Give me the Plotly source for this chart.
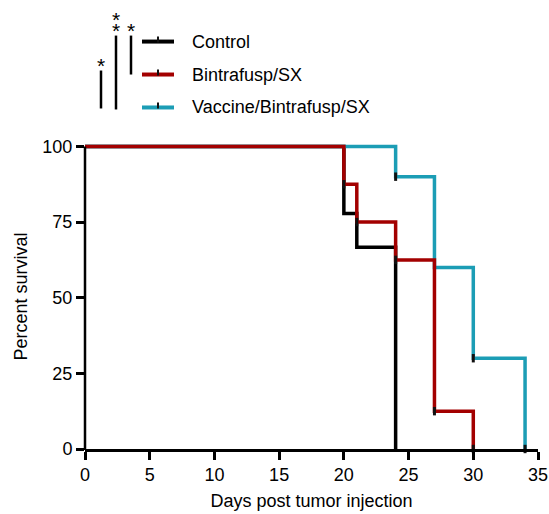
import plotly.graph_objects as go

# ---- data ----
control_days = [0, 20, 21, 24]
control_surv = [100, 77.8, 66.7, 0]
bint_days = [0, 20, 21, 24, 27, 30]
bint_surv = [100, 87.5, 75, 62.5, 12.5, 0]
vacc_days = [0, 24, 27, 30, 34]
vacc_surv = [100, 90, 60, 30, 0]

# tick marks at step events
bint_tick_days = [20, 21, 24, 27, 30]
bint_tick_surv = [87.5, 75, 62.5, 12.5, 0]
vacc_tick_days = [24, 30, 34]
vacc_tick_surv = [90, 30, 0]

names = ["Control", "Bintrafusp/SX", "Vaccine/Bintrafusp/SX"]
colors = ["#000000", "#A30000", "#1C9DB5"]
sig_labels = ["*", "**", "*"]

x_ticks = [0, 5, 10, 15, 20, 25, 30, 35]
y_ticks = [0, 25, 50, 75, 100]

FONT = "Liberation Sans, Arial, sans-serif"
FS = 18
W, H = 549, 514
X0, X1, Y100, Y0 = 85, 538, 146, 449  # pixel positions of day 0/35 and 100%/0%
YMAX = 100.8
pxper = (Y0 - Y100) / 100.0
L, R, B = X0, W - X1, H - Y0
T = Y0 - YMAX * pxper
pw, ph = W - L - R, H - T - B

def px(x):
    return (x - L) / pw

def py(y):
    return (H - B - y) / ph

fig = go.Figure()
series = [(control_days, control_surv, 0), (vacc_days, vacc_surv, 2), (bint_days, bint_surv, 1)]
for d, s, i in series:
    fig.add_trace(go.Scatter(x=d, y=s, mode="lines", line=dict(color=colors[i], width=3.5, shape="hv"),
                             name=names[i], showlegend=False, cliponaxis=False))

for d, s in [(bint_tick_days, bint_tick_surv), (vacc_tick_days, vacc_tick_surv)]:
    fig.add_trace(go.Scatter(x=d, y=s, mode="markers", showlegend=False, cliponaxis=False,
                             marker=dict(symbol="line-ns", size=6, line=dict(color="#111111", width=3))))

shapes = []
annots = []
# y axis line from 0 to 100 only
shapes.append(dict(type="line", xref="paper", yref="paper", x0=0, x1=0, y0=py(Y0 + 1), y1=py(Y100),
                   line=dict(color="#000", width=2.5)))

# manual legend
leg_y = [41, 74, 107]
for i in range(3):
    shapes.append(dict(type="line", xref="paper", yref="paper", x0=px(142), x1=px(174),
                       y0=py(leg_y[i]), y1=py(leg_y[i]), line=dict(color=colors[i], width=4)))
    shapes.append(dict(type="line", xref="paper", yref="paper", x0=px(158), x1=px(158),
                       y0=py(leg_y[i] + 1), y1=py(leg_y[i] - 5), line=dict(color="#111111", width=2)))
    annots.append(dict(text=names[i], xref="paper", yref="paper", x=px(190), y=py(leg_y[i]),
                       xanchor="left", yanchor="middle", showarrow=False,
                       font=dict(family=FONT, size=FS, color="#000")))

# significance bars
sig_x = [101, 116, 131]
sig_top = [70, 35, 35]
sig_bot = [108, 109, 74]
for i in range(3):
    shapes.append(dict(type="line", xref="paper", yref="paper", x0=px(sig_x[i]), x1=px(sig_x[i]),
                       y0=py(sig_top[i]), y1=py(sig_bot[i]), line=dict(color="#000", width=2.5)))
    for k, ch in enumerate(sig_labels[i]):
        cy = sig_top[i] - 5 - (len(sig_labels[i]) - 1 - k) * 11
        annots.append(dict(text=ch, xref="paper", yref="paper",
                           x=px(sig_x[i]), y=py(cy), xanchor="center", yanchor="middle",
                           showarrow=False, font=dict(family=FONT, size=21, color="#000")))

fig.update_layout(
    width=W, height=H, margin=dict(l=L, r=R, t=T, b=B, autoexpand=False),
    plot_bgcolor="white", paper_bgcolor="white",
    font=dict(family=FONT, size=FS, color="#000"),
    shapes=shapes, annotations=annots, showlegend=False,
    xaxis=dict(range=[0, 35], tickvals=x_ticks, ticks="outside", ticklen=8, tickwidth=2.5,
               tickcolor="#000", showline=True, linecolor="#000", linewidth=2.5, showgrid=False,
               zeroline=False, automargin=False, tickfont=dict(size=FS),
               title=dict(text="Days post tumor injection", font=dict(size=FS), standoff=11)),
    yaxis=dict(range=[0, YMAX], tickvals=y_ticks, ticks="outside", ticklen=8, tickwidth=2.5,
               tickcolor="#000", showline=False, showgrid=False,
               zeroline=False, automargin=False, tickfont=dict(size=FS),
               title=dict(text="Percent survival", font=dict(size=FS), standoff=10)),
)

fig.write_html("out.html", config={"displayModeBar": False},
               post_script="document.body.style.margin='0';document.body.style.overflow='hidden';")
